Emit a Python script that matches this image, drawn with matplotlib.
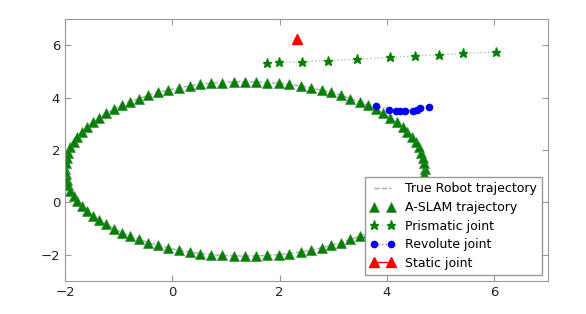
"""
Robot trajectory vs. estimated trajectory and joints
"""

import matplotlib
matplotlib.use("Agg")
from matplotlib import pyplot as plt

# Trajectory (one point per marker)
traj_x = [4.70, 4.69, 4.67, 4.64, 4.60, 4.54, 4.47, 4.38, 4.29, 4.18, 4.06, 3.93, 3.79,
          3.64, 3.49, 3.32, 3.15, 2.96, 2.78, 2.58, 2.39, 2.18, 1.98, 1.77, 1.56, 1.35,
          1.14, 0.93, 0.72, 0.52, 0.32, 0.12, -0.08, -0.26, -0.45, -0.62, -0.79, -0.94,
          -1.09, -1.23, -1.36, -1.48, -1.59, -1.68, -1.77, -1.84, -1.90, -1.94, -1.97,
          -1.99, -2.00,
          -1.99, -1.97, -1.94, -1.90, -1.84, -1.77, -1.68, -1.59, -1.48, -1.36, -1.23,
          -1.09, -0.94, -0.79, -0.62, -0.45, -0.26, -0.08, 0.12, 0.32, 0.52, 0.72, 0.93,
          1.14, 1.35,
          1.56, 1.77, 1.98, 2.18, 2.39, 2.58, 2.78, 2.96, 3.15, 3.32, 3.49, 3.64, 3.79,
          3.93, 4.06, 4.18, 4.29, 4.38, 4.47, 4.54, 4.60, 4.64, 4.67, 4.69]
traj_y = [1.28, 1.49, 1.70, 1.90, 2.11, 2.31, 2.51, 2.70, 2.88, 3.06, 3.24, 3.40, 3.56,
          3.71, 3.85, 3.97, 4.09, 4.20, 4.29, 4.38, 4.45, 4.51, 4.55, 4.58, 4.60, 4.61,
          4.60, 4.58, 4.55, 4.51, 4.45, 4.38, 4.29, 4.20, 4.09, 3.97, 3.85, 3.71, 3.56,
          3.40, 3.24, 3.06, 2.88, 2.70, 2.51, 2.31, 2.11, 1.90, 1.70, 1.49, 1.28,
          1.07, 0.86, 0.66, 0.45, 0.25, 0.05, -0.14, -0.32, -0.50, -0.68, -0.84, -1.00,
          -1.15, -1.29, -1.41, -1.53, -1.64, -1.73, -1.82, -1.89, -1.95, -1.99, -2.02,
          -2.04, -2.05,
          -2.04, -2.02, -1.99, -1.95, -1.89, -1.82, -1.73, -1.64, -1.53, -1.41, -1.29,
          -1.15, -1.00, -0.84, -0.68, -0.50, -0.32, -0.14, 0.05, 0.25, 0.45, 0.66, 0.86,
          1.07]

# Prismatic joint
prism_x = [1.77, 1.99, 2.41, 2.91, 3.44, 4.06, 4.52, 4.97, 5.42, 6.03]
prism_y = [5.32, 5.35, 5.37, 5.42, 5.47, 5.54, 5.60, 5.64, 5.69, 5.74]

# Revolute joint
rev_x = [3.80, 4.03, 4.16, 4.25, 4.33, 4.49, 4.56, 4.62, 4.78]
rev_y = [3.70, 3.55, 3.51, 3.51, 3.51, 3.51, 3.55, 3.59, 3.63]

# Static joint
static_x = [2.33]
static_y = [6.26]


def main():
    """
    Plot everything and save to out.png
    """
    fig = plt.figure(figsize=(5.86, 3.14), dpi=100)
    a_x = fig.add_axes([0.111, 0.105, 0.824, 0.834])

    a_x.plot(traj_x, traj_y, linestyle="--", color="#aaaaaa", linewidth=1,
             label="True Robot trajectory")
    a_x.plot(traj_x, traj_y, linestyle="none", marker="^", color="green",
             markersize=6.5, markeredgecolor="#3d8a3d", markeredgewidth=0.5,
             label="A-SLAM trajectory")
    a_x.plot(prism_x, prism_y, linestyle=":", color="#9ad39a", linewidth=1,
             marker="*", markerfacecolor="green", markeredgecolor="green",
             markersize=6.5, label="Prismatic joint")
    a_x.plot(rev_x, rev_y, linestyle=":", color="#7f7fff", linewidth=1,
             marker="o", markerfacecolor="blue", markeredgecolor="blue",
             markersize=4.5, label="Revolute joint")
    a_x.plot(static_x, static_y, linestyle="-", color="red", linewidth=1,
             marker="^", markersize=7, label="Static joint")

    a_x.set_xlim(-2, 7)
    a_x.set_ylim(-3, 7)
    a_x.set_xticks([-2, 0, 2, 4, 6])
    a_x.set_yticks([-2, 0, 2, 4, 6])
    a_x.tick_params(direction="in", top=True, right=True, labelsize=9.5,
                    color="#999999", labelcolor="#222222", length=4)
    for spine in a_x.spines.values():
        spine.set_color("#999999")

    leg = a_x.legend(loc="lower right", numpoints=2, fontsize=9, fancybox=False,
                     borderaxespad=0.5, handlelength=2.0, labelspacing=0.45)
    leg.get_frame().set_edgecolor("#999999")
    leg.get_frame().set_alpha(1)

    fig.savefig("out.png", dpi=100)


if __name__ == "__main__":
    main()
